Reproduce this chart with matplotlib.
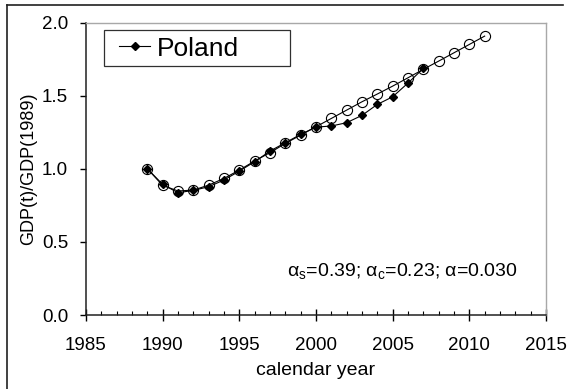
import matplotlib.pyplot as plt
from matplotlib.lines import Line2D
from matplotlib.patches import Rectangle
from matplotlib.ticker import MultipleLocator

plt.rcParams['font.family'] = ['Liberation Sans', 'DejaVu Sans']

# observed GDP relative to 1989
years_obs = [1989, 1990, 1991, 1992, 1993, 1994, 1995, 1996, 1997, 1998,
             1999, 2000, 2001, 2002, 2003, 2004, 2005, 2006, 2007]
gdp_obs = [1.000, 0.893, 0.836, 0.852, 0.877, 0.923, 0.984, 1.048, 1.121, 1.178,
           1.235, 1.285, 1.292, 1.315, 1.365, 1.440, 1.492, 1.586, 1.686]

# model curve
years_model = list(range(1989, 2012))
gdp_model = [1.000, 0.886, 0.848, 0.854, 0.888, 0.934, 0.991, 1.053, 1.110, 1.173,
             1.230, 1.287, 1.344, 1.401, 1.458, 1.511, 1.565, 1.622, 1.680, 1.736,
             1.793, 1.850, 1.907]

fig = plt.figure(figsize=(5.69, 3.89), dpi=100)
ax = fig.add_axes([86 / 569, 1 - 315 / 389, 460 / 569, 292.5 / 389])

ax.plot(years_model, gdp_model, color='black', lw=0.8, marker='o', ms=7.3,
        mfc='none', mec='black', mew=0.8, zorder=2)
ax.plot(years_obs, gdp_obs, color='black', lw=0.8, marker='D', ms=4.3,
        mfc='black', mec='black', zorder=3, label='Poland')

ax.set_xlim(1985, 2015)
ax.set_ylim(0, 2.0)
ax.xaxis.set_major_locator(MultipleLocator(5))
ax.xaxis.set_minor_locator(MultipleLocator(1))
ax.yaxis.set_major_locator(MultipleLocator(0.5))
ax.yaxis.set_major_formatter(plt.FormatStrFormatter('%.1f'))

ax.tick_params(axis='x', which='major', direction='inout', length=8, width=1,
               labelsize=13.5, pad=11.5)
ax.tick_params(axis='x', which='minor', direction='in', length=3, width=0.8)
ax.tick_params(axis='y', which='major', direction='out', length=4.3, width=1,
               labelsize=13.5, pad=8.5)

for s in ['top', 'right']:
    ax.spines[s].set_color('#a8a8a8')
    ax.spines[s].set_linewidth(1)
for s in ['left', 'bottom']:
    ax.spines[s].set_color('#202020')
    ax.spines[s].set_linewidth(1.1)

ax.set_xlabel('calendar year', fontsize=14, labelpad=6)
ax.set_ylabel('GDP(t)/GDP(1989)', fontsize=13, labelpad=3.5)

# legend: entries without frame, box drawn separately
ax.add_patch(Rectangle((0.039, 0.850), 0.404, 0.123, transform=ax.transAxes,
                       fill=False, edgecolor='#303030', lw=0.9, zorder=4))
ax.legend(loc='center left', bbox_to_anchor=(0.072, 0.911), fontsize=19,
          frameon=False, handlelength=1.17, handletextpad=0.27,
          borderpad=0, borderaxespad=0)

ax.text(0.939, 0.133,
        r'$\mathregular{\alpha_s}$=0.39; $\mathregular{\alpha_c}$=0.23; $\mathregular{\alpha}$=0.030',
        transform=ax.transAxes, ha='right', va='baseline', fontsize=14)

# outer frame lines
fig.add_artist(Line2D([7 / 569, 7 / 569], [0, 1 - 5 / 389], color='#202020',
                      lw=1.2, transform=fig.transFigure))
fig.add_artist(Line2D([7 / 569, 563 / 569], [1 - 5 / 389, 1 - 5 / 389],
                      color='#202020', lw=1.2, transform=fig.transFigure))

fig.savefig('out.png', dpi=100)
